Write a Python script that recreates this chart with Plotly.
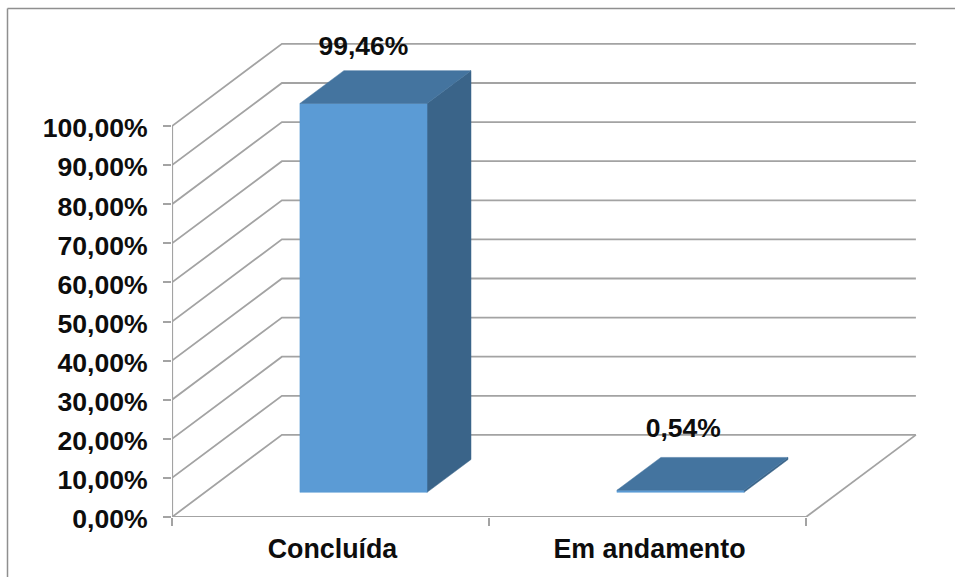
import plotly.graph_objects as go

categories = ["Concluída", "Em andamento"]
values = [99.46, 0.54]
value_labels = ["99,46%", "0,54%"]
y_ticks = [0, 10, 20, 30, 40, 50, 60, 70, 80, 90, 100]
y_tick_labels = ["0,00%", "10,00%", "20,00%", "30,00%", "40,00%", "50,00%",
                 "60,00%", "70,00%", "80,00%", "90,00%", "100,00%"]

# Oblique projection of the 3-D box, in axis units
DEPTH_X = 0.3467     # category units from the front to the back wall
DEPTH_Y = 21.0       # percent units from the front to the back wall
BAR_W = 0.405
D0, D1 = 0.30, 0.70  # bar's front and back, as a share of the depth
LABEL_GAP = 21.5
LABEL_SCALE = 0.988
LABEL_STEP = 1.009

GRID = "#a3a3a3"
FRONT = "#5b9bd5"
TOP = "#44749f"
SIDE = "#3a6489"
FONT = "Liberation Sans"
INK = "#0d0d0d"
N = len(categories)


def proj(x, y, d):
    return x + DEPTH_X * d, y + DEPTH_Y * d


def poly(points, color):
    xs, ys = zip(*[proj(*p) for p in points])
    return go.Scatter(x=list(xs) + [xs[0]], y=list(ys) + [ys[0]], mode="lines",
                      fill="toself", fillcolor=color, line=dict(color=color, width=0.5),
                      hoverinfo="skip", showlegend=False)


def line(points, width=1.8):
    xs, ys = zip(*[proj(*p) for p in points])
    return go.Scatter(x=xs, y=ys, mode="lines", line=dict(color=GRID, width=width),
                      hoverinfo="skip", showlegend=False)


fig = go.Figure()

# Walls: left-wall diagonals and back-wall gridlines
for t in y_ticks:
    fig.add_trace(line([(0, t, 0), (0, t, 1), (N, t, 1)]))
# Floor's right edge and axes
fig.add_trace(line([(N, 0, 1), (N, 0, 0)]))
fig.add_trace(line([(0, 0, 0), (N, 0, 0)], 2.2))
fig.add_trace(line([(0, 0, 0), (0, y_ticks[-1], 0)], 2.2))

# Bars
for i, v in enumerate(values):
    x0 = i + 0.5 - BAR_W / 2 + 0.002
    x1 = i + 0.5 + BAR_W / 2 - 0.002
    fig.add_trace(poly([(x1, 0, D0), (x1, 0, D1), (x1, v, D1), (x1, v, D0)], SIDE))
    fig.add_trace(poly([(x0, 0, D0), (x1, 0, D0), (x1, v, D0), (x0, v, D0)], FRONT))
    fig.add_trace(poly([(x0, v, D0), (x1, v, D0), (x1, v, D1), (x0, v, D1)], TOP))

# Value labels
fig.add_trace(go.Scatter(
    x=[i * LABEL_STEP + 0.5 + DEPTH_X * D0 for i in range(N)],
    y=[v * LABEL_SCALE + LABEL_GAP for v in values],
    mode="text", text=value_labels, textposition="middle center", cliponaxis=False,
    textfont=dict(family=FONT, size=26.5, color=INK, weight="bold"),
    hoverinfo="skip", showlegend=False,
))

W, H = 955, 577
left, right, top, bottom = 172, 940, 11, 517
PX_X = 317.0
PX_Y = 3.91


def px(x):
    return (x - left) / (right - left)


def py(y):
    return (bottom - y) / (bottom - top)


BORDER = dict(color="#8f8f8f", width=1.5)

fig.update_layout(
    width=W, height=H, autosize=False,
    margin=dict(l=left, r=W - right, t=top, b=H - bottom, pad=0),
    paper_bgcolor="white", plot_bgcolor="white", showlegend=False,
    font=dict(family=FONT, color=INK),
    xaxis=dict(
        range=[0, (right - left) / PX_X],
        tickmode="array", tickvals=[i + 0.5 for i in range(N)], ticktext=categories,
        tickfont=dict(family=FONT, size=26.8, weight="bold", color=INK),
        ticks="", showgrid=False, zeroline=False, showline=False,
        ticklabelstandoff=13, ticklabelshift=2,
        minor=dict(tickmode="array", tickvals=list(range(N + 1)), ticks="outside",
                   ticklen=8, tickwidth=2, tickcolor=GRID, showgrid=False),
    ),
    yaxis=dict(
        range=[0, (bottom - top) / PX_Y],
        tickmode="array", tickvals=y_ticks, ticktext=y_tick_labels,
        tickfont=dict(family=FONT, size=26.6, weight="bold", color=INK),
        ticks="outside", ticklen=8, tickwidth=2, tickcolor=GRID,
        showgrid=False, zeroline=False, showline=False,
        ticklabelstandoff=10, ticklabelshift=2,
    ),
    shapes=[
        dict(type="line", xref="paper", yref="paper", x0=px(7.5), x1=px(W), y0=py(8.5), y1=py(8.5),
             line=BORDER, layer="below"),
        dict(type="line", xref="paper", yref="paper", x0=px(7.5), x1=px(7.5), y0=py(8.5), y1=py(H),
             line=BORDER, layer="below"),
    ],
)

fig.write_html("out.html", config=dict(displayModeBar=False),
               post_script="document.body.style.margin='0';document.body.style.overflow='hidden';")
